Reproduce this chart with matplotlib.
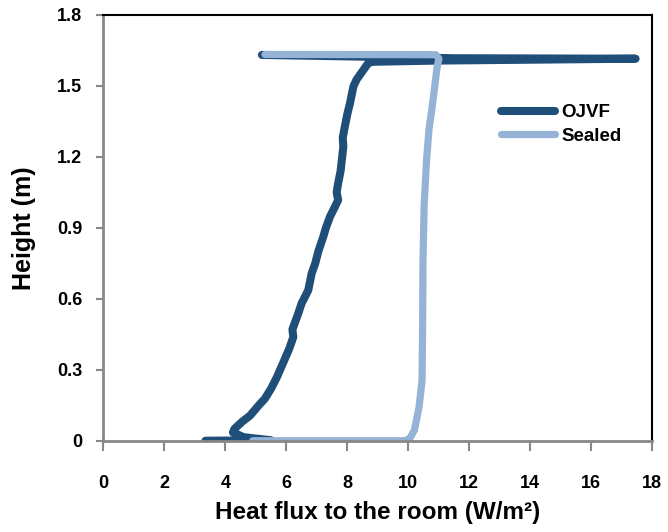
import matplotlib
matplotlib.use("Agg")
import matplotlib.pyplot as plt

# OJVF profile (heat flux W/m2, height m)
ojvf_flux = [3.35, 5.5, 4.6, 4.25, 4.3, 4.55, 4.81, 5.1, 5.3, 5.5, 5.69, 5.9,
             6.1, 6.23, 6.2, 6.39, 6.5, 6.72, 6.83, 6.95, 7.05, 7.21, 7.3,
             7.43, 7.6, 7.70, 7.65, 7.70, 7.78, 7.82, 7.87, 7.85, 7.92, 8.0,
             8.09, 8.20, 8.30, 8.42, 8.69, 8.85, 10.9, 17.45, 11.5, 5.2]
ojvf_height = [0.0, 0.002, 0.015, 0.035, 0.05, 0.08, 0.106, 0.15, 0.178, 0.22,
               0.268, 0.33, 0.39, 0.438, 0.47, 0.537, 0.58, 0.636, 0.706, 0.75,
               0.8, 0.861, 0.9, 0.946, 0.99, 1.017, 1.05, 1.088, 1.14, 1.186,
               1.243, 1.28, 1.328, 1.38, 1.427, 1.497, 1.525, 1.547, 1.596,
               1.601, 1.606, 1.614, 1.616, 1.630]

# Sealed profile
sealed_flux = [4.9, 9.9, 10.05, 10.2, 10.35, 10.45, 10.47, 10.48, 10.52, 10.6,
               10.68, 10.77, 10.85, 10.93, 11.0, 10.9, 5.3]
sealed_height = [0.0, 0.0, 0.01, 0.045, 0.141, 0.254, 0.5, 0.76, 1.0, 1.19,
                 1.32, 1.4, 1.48, 1.566, 1.615, 1.631, 1.632]

x_ticks = [0, 2, 4, 6, 8, 10, 12, 14, 16, 18]
y_ticks = [0, 0.3, 0.6, 0.9, 1.2, 1.5, 1.8]
y_tick_labels = ["0", "0.3", "0.6", "0.9", "1.2", "1.5", "1.8"]

plt.rcParams["font.family"] = ["Liberation Sans", "DejaVu Sans"]
plt.rcParams["font.weight"] = "bold"

fig = plt.figure(figsize=(6.68, 5.32), dpi=100)
ax = fig.add_axes([0.1546, 0.1716, 0.822, 0.8008])

ax.plot(ojvf_flux, ojvf_height, color="#1F4E79", linewidth=5.8,
        solid_capstyle="round", solid_joinstyle="round", label="OJVF")
ax.plot(sealed_flux, sealed_height, color="#95B3D7", linewidth=5.2,
        solid_capstyle="round", solid_joinstyle="round", label="Sealed")

ax.set_xlim(0, 18)
ax.set_ylim(0, 1.8)
ax.set_xticks(x_ticks)
ax.set_yticks(y_ticks)
ax.set_yticklabels(y_tick_labels)
ax.tick_params(axis="both", labelsize=13, color="#888888", width=1.5)
ax.tick_params(axis="x", length=7, pad=18)
ax.tick_params(axis="y", length=5, pad=10)

for side in ["left", "bottom"]:
    ax.spines[side].set_color("#888888")
    ax.spines[side].set_linewidth(2)
for side in ["top", "right"]:
    ax.spines[side].set_color("black")
    ax.spines[side].set_linewidth(1.5)

ax.set_xlabel("Heat flux to the room (W/m\u00b2)", fontsize=17.5,
              fontweight="bold", labelpad=6)
ax.set_ylabel("Height (m)", fontsize=18, fontweight="bold", labelpad=15)

ax.legend(loc="upper right", bbox_to_anchor=(0.975, 0.83), frameon=False,
          fontsize=13.5, handlelength=2.9, handletextpad=0.35, labelspacing=0.35)

fig.savefig("out.png", dpi=100)
